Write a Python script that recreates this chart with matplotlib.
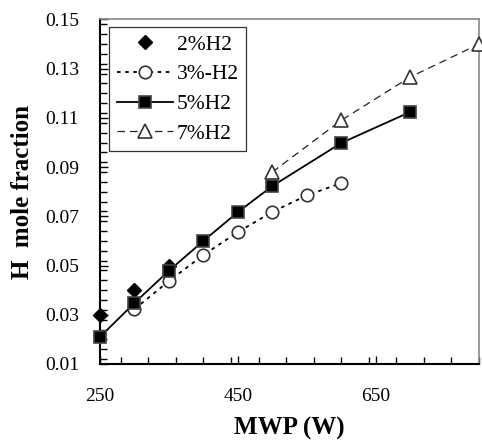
import matplotlib
matplotlib.use("Agg")
import matplotlib.pyplot as plt
from matplotlib.ticker import MultipleLocator

plt.rcParams['font.family'] = ['Liberation Serif', 'DejaVu Serif']

x2 = [250, 300, 350]
y2 = [0.030, 0.0402, 0.0498]

x3 = [300, 350, 400, 450, 500, 550, 600]
y3 = [0.0323, 0.0437, 0.0543, 0.0636, 0.0718, 0.0785, 0.0835]

x5 = [250, 300, 350, 400, 450, 500, 600, 700]
y5 = [0.021, 0.0348, 0.0479, 0.060, 0.0717, 0.0823, 0.0998, 0.1124]

x7 = [500, 600, 700, 800]
y7 = [0.088, 0.109, 0.1266, 0.140]

labels = ["2%H2", "3%-H2", "5%H2", "7%H2"]
xticks = [250, 450, 650]
yticks = [0.01, 0.03, 0.05, 0.07, 0.09, 0.11, 0.13, 0.15]

fig = plt.figure(figsize=(4.82, 4.46), dpi=100)
ax = fig.add_axes([0.2075, 0.1839, 0.7863, 0.7724])

ax.plot(x2, y2, linestyle='none', marker='D', ms=7.5, color='black', label=labels[0],
        zorder=3, clip_on=False)
ax.plot(x3, y3, linestyle=(0, (2, 2.5)), lw=1.3, marker='o', ms=9, mfc='white', mec='#333333',
        mew=1.2, color='black', label=labels[1], zorder=3, clip_on=False)
ax.plot(x5, y5, linestyle='-', lw=1.3, marker='s', ms=8.5, mfc='black', mec='#444444',
        mew=1.2, color='black', label=labels[2], zorder=4, clip_on=False)
ax.plot(x7, y7, linestyle=(0, (6, 4)), lw=0.9, marker='^', ms=9.5, mfc='white', mec='#333333',
        mew=1.2, color='#222222', label=labels[3], zorder=3, clip_on=False)

ax.set_xlim(250, 800)
ax.set_ylim(0.01, 0.15)
ax.xaxis.set_minor_locator(MultipleLocator(40))
ax.yaxis.set_minor_locator(MultipleLocator(0.004))
ax.set_xticks(xticks)
ax.set_xticklabels([str(v) for v in xticks])
ax.set_yticks(yticks)
ax.set_yticklabels([f"{v:.2f}" for v in yticks])

ax.tick_params(which='both', direction='in', labelsize=14, width=1.0)
ax.tick_params(axis='x', which='major', length=6, pad=17)
ax.tick_params(axis='x', which='minor', length=5)
ax.tick_params(axis='y', which='major', length=6, pad=15)
ax.tick_params(axis='y', which='minor', length=5)

for s in ['left', 'bottom']:
    ax.spines[s].set_color('black')
    ax.spines[s].set_linewidth(1.5)
for s in ['top', 'right']:
    ax.spines[s].set_color('#888888')
    ax.spines[s].set_linewidth(1.2)

ax.set_xlabel("MWP (W)", fontsize=18, fontweight='bold', labelpad=9)
ax.set_ylabel("H  mole fraction", fontsize=18, fontweight='bold', labelpad=8)

leg = ax.legend(loc='upper left', bbox_to_anchor=(0.024, 0.978), fontsize=15.5, frameon=True,
                fancybox=False, edgecolor='black', handlelength=2.6, handletextpad=0.2,
                labelspacing=0.45, borderpad=0.35, borderaxespad=0.0)
leg.get_frame().set_linewidth(0.9)

fig.savefig("out.png", dpi=100)
